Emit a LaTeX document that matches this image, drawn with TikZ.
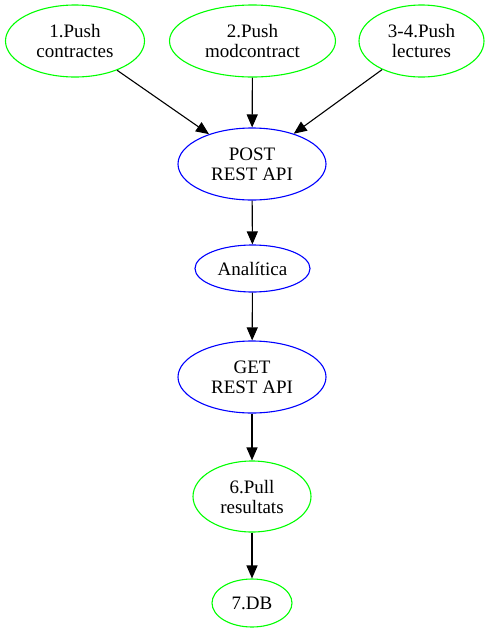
\documentclass[tikz,border=0pt]{standalone}
\usepackage{fontspec}
\setmainfont{Liberation Serif}
\usetikzlibrary{shapes.geometric,arrows.meta}
\definecolor{gvgreen}{RGB}{0,255,0}
\definecolor{gvblue}{RGB}{0,0,255}
\begin{document}
\begin{tikzpicture}[x=1pt,y=-1pt,
  gvnode/.style={ellipse,draw,line width=1.1pt,inner sep=0pt,align=center,
    font=\fontsize{19}{20}\selectfont},
  greennode/.style={gvnode,draw=gvgreen},
  bluenode/.style={gvnode,draw=gvblue},
  gvedge/.style={line width=1.1pt,-{Triangle[length=13pt,width=11pt]}}]
\useasboundingbox (0,0) rectangle (489,633);
\node[greennode,minimum width=139pt,minimum height=72pt] (a1) at (75,41) {1.Push\\contractes};
\node[greennode,minimum width=166pt,minimum height=72pt] (a2) at (252.5,41) {2.Push\\modcontract};
\node[greennode,minimum width=125pt,minimum height=72pt] (a3) at (421.5,41) {3-4.Push\\lectures};
\node[bluenode,minimum width=148pt,minimum height=72pt] (post) at (252,164) {POST\\REST API};
\node[bluenode,minimum width=115pt,minimum height=47pt] (anal) at (252.5,268.5) {Analítica};
\node[bluenode,minimum width=148pt,minimum height=72pt] (get) at (252,377) {GET\\REST API};
\node[greennode,minimum width=118pt,minimum height=71pt] (pull) at (252,496.5) {6.Pull\\resultats};
\node[greennode,minimum width=80pt,minimum height=48pt] (db) at (252,603) {7.DB};
\draw[gvedge] (a1) -- (post);
\draw[gvedge] (a2) -- (post);
\draw[gvedge] (a3) -- (post);
\draw[gvedge] (post) -- (anal);
\draw[gvedge] (anal) -- (get);
\draw[gvedge] (get) -- (pull);
\draw[gvedge] (pull) -- (db);
\end{tikzpicture}
\end{document}
